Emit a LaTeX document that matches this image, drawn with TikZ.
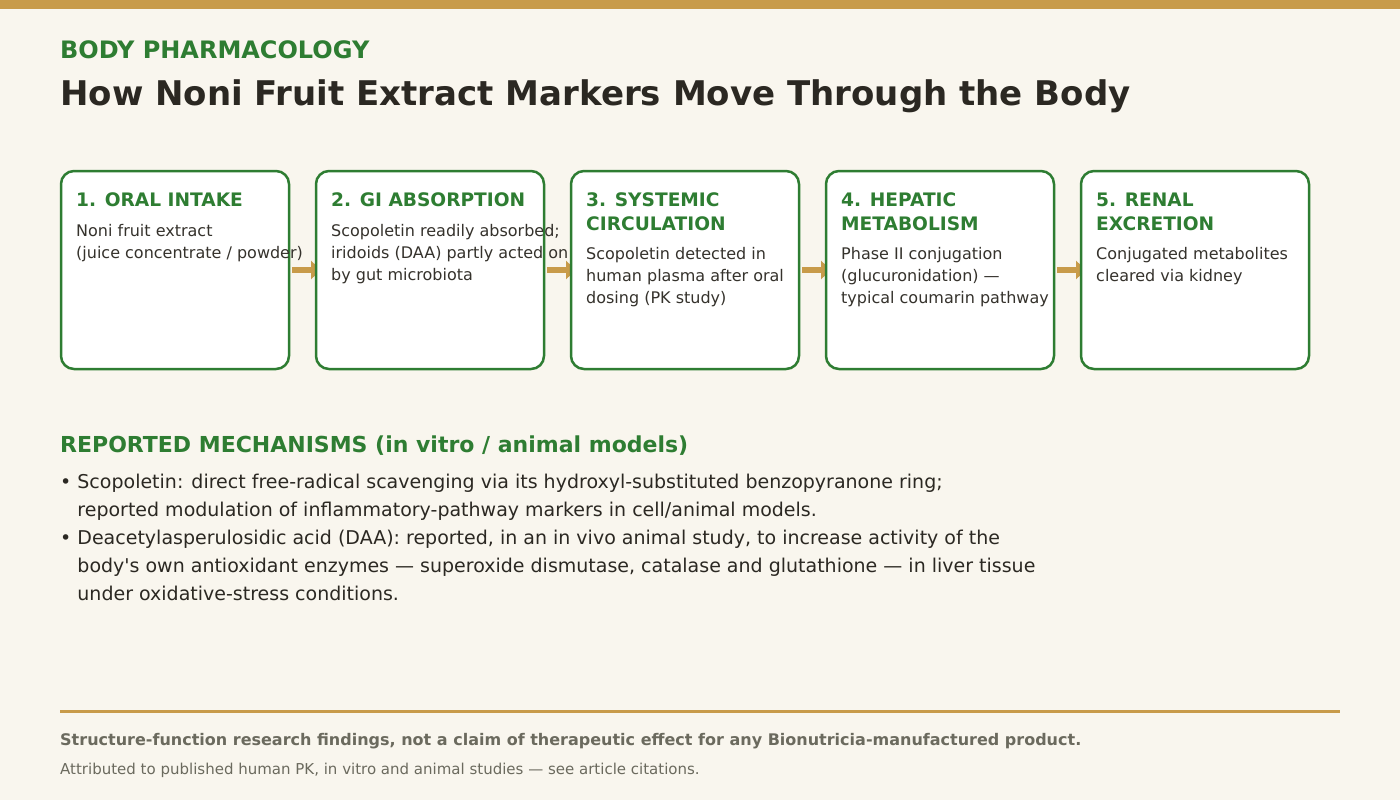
\documentclass[tikz,border=0pt]{standalone}
\usepackage{fontspec}
\setmainfont{DejaVu Sans}[Ligatures=TeXOff]
\usetikzlibrary{arrows.meta}
\pgfdeclarelayer{bottom}
\pgfdeclarelayer{background}
\pgfsetlayers{bottom,background,main}
\definecolor{bgc}{HTML}{F9F6EE}
\definecolor{goldc}{HTML}{C89B4A}
\definecolor{greenc}{HTML}{2E7D32}
\definecolor{darkc}{HTML}{2B2822}
\definecolor{bodyc}{HTML}{35322C}
\definecolor{greyc}{HTML}{6B6A5E}
\tikzset{
  stagebox/.style={draw=greenc, line width=2.5pt, fill=white, rounded corners=13pt,
    minimum width=228pt, minimum height=198pt, inner sep=0pt, outer sep=0pt},
  stagetitle/.style={anchor=base west, inner sep=0pt, align=left, text=greenc,
    font=\fontsize{18.6}{24}\selectfont\bfseries},
  stagebody/.style={anchor=base west, inner sep=0pt, align=left, text=bodyc,
    font=\fontsize{16}{22}\selectfont},
  flowarrow/.style={draw=goldc, line width=5.5pt, -{Triangle[length=10pt,width=18pt]}},
  bullettext/.style={anchor=base west, inner sep=0pt, align=left, text=darkc,
    font=\fontsize{19}{28}\selectfont},
}
\begin{document}
\begin{tikzpicture}[x=1pt,y=-1pt]
\useasboundingbox (0,0) rectangle (1400,800);
\begin{pgfonlayer}{bottom}
\fill[bgc] (0,0) rectangle (1400,800);
\fill[goldc] (0,0) rectangle (1400,9);
\end{pgfonlayer}
\node[anchor=base west, inner sep=0pt, text=greenc, font=\fontsize{24}{28}\selectfont\bfseries] (kicker) at (60,59) {BODY PHARMACOLOGY};
\node[anchor=base west, inner sep=0pt, text=darkc, font=\fontsize{34}{40}\selectfont\bfseries] (title) at (60,106) {How Noni Fruit Extract Markers Move Through the Body};
% boxes
\node[stagebox] (box1) at (175,270) {};
\node[stagebox] (box2) at (430,270) {};
\node[stagebox] (box3) at (685,270) {};
\node[stagebox] (box4) at (940,270) {};
\node[stagebox] (box5) at (1195,270) {};
% (base anchor of a multi-line node = baseline of its last line)
\node[stagetitle] (t1) at (76,206) {1. ORAL INTAKE};
\node[stagebody] (d1) at (76,258) {Noni fruit extract\\(juice concentrate / powder)};
\node[stagetitle] (t2) at (331,206) {2. GI ABSORPTION};
\node[stagebody] (d2) at (331,280) {Scopoletin readily absorbed;\\iridoids (DAA) partly acted on\\by gut microbiota};
\node[stagetitle] (t3) at (586,230) {3. SYSTEMIC\\CIRCULATION};
\node[stagebody] (d3) at (586,303) {Scopoletin detected in\\human plasma after oral\\dosing (PK study)};
\node[stagetitle] (t4) at (841,230) {4. HEPATIC\\METABOLISM};
\node[stagebody] (d4) at (841,303) {Phase II conjugation\\(glucuronidation) —\\typical coumarin pathway};
\node[stagetitle] (t5) at (1096,230) {5. RENAL\\EXCRETION};
\node[stagebody] (d5) at (1096,281) {Conjugated metabolites\\cleared via kidney};
% arrows (behind the boxes)
\begin{pgfonlayer}{background}
\draw[flowarrow] ([xshift=3pt]box1.east) -- ([xshift=5pt]box2.west);
\draw[flowarrow] ([xshift=3pt]box2.east) -- ([xshift=5pt]box3.west);
\draw[flowarrow] ([xshift=3pt]box3.east) -- ([xshift=5pt]box4.west);
\draw[flowarrow] ([xshift=3pt]box4.east) -- ([xshift=5pt]box5.west);
\end{pgfonlayer}
% mechanisms
\node[anchor=base west, inner sep=0pt, text=greenc, font=\fontsize{22}{26}\selectfont\bfseries] (mech) at (60,452) {REPORTED MECHANISMS (in vitro / animal models)};
\node[bullettext] (m1) at (60,516) {• Scopoletin: direct free-radical scavenging via its hydroxyl-substituted benzopyranone ring;\\\hphantom{• }reported modulation of inflammatory-pathway markers in cell/animal models.};
\node[bullettext] (m2) at (60,600) {• Deacetylasperulosidic acid (DAA): reported, in an in vivo animal study, to increase activity of the\\\hphantom{• }body's own antioxidant enzymes — superoxide dismutase, catalase and glutathione — in liver tissue\\\hphantom{• }under oxidative-stress conditions.};
% footer
\draw[goldc, line width=3pt] (60,711) -- (1340,711);
\node[anchor=base west, inner sep=0pt, text=greyc, font=\fontsize{16}{18}\selectfont\bfseries] (f1) at (60,745) {Structure-function research findings, not a claim of therapeutic effect for any Bionutricia-manufactured product.};
\node[anchor=base west, inner sep=0pt, text=greyc, font=\fontsize{15}{18}\selectfont] (f2) at (60,774) {Attributed to published human PK, in vitro and animal studies — see article citations.};
\end{tikzpicture}
\end{document}
